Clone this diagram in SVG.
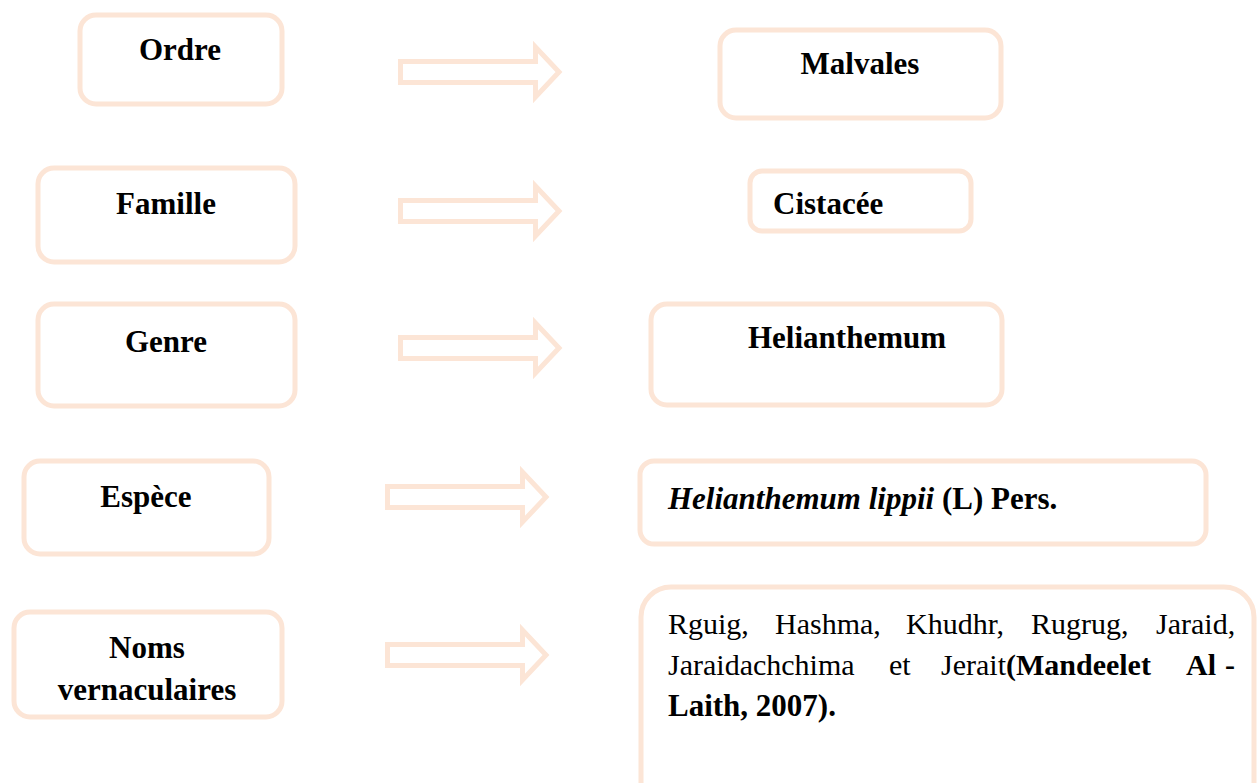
<svg xmlns="http://www.w3.org/2000/svg" width="1258" height="783" viewBox="0 0 1258 783">
<style>
.box{fill:#ffffff;stroke:#FCE5D6;stroke-width:5}
.arr{fill:#ffffff;stroke:#FCE5D6;stroke-width:5;stroke-linejoin:miter}
text{font-family:'Liberation Serif','DejaVu Serif',serif;fill:#000}
.lb{font-weight:bold;font-size:31px}
.rg{font-size:30px}
.b{font-weight:bold}
.it{font-style:italic}
</style>
<defs>
<path id="arrow" class="arr" d="M2.5,-10.5 H137.5 V-25 L161,0 L137.5,25 V10.5 H2.5 Z"/>
</defs>
<rect width="1258" height="783" fill="#ffffff"/>
<g id="connectors">
<use href="#arrow" x="398" y="72"/>
<use href="#arrow" x="398" y="211"/>
<use href="#arrow" x="398" y="348"/>
<use href="#arrow" x="385" y="497"/>
<use href="#arrow" x="385" y="655"/>
</g>
<g id="ordre"><rect class="box" x="80" y="15" width="202" height="89" rx="16"/><text class="lb" x="180" y="60" text-anchor="middle">Ordre</text></g>
<g id="malvales"><rect class="box" x="720" y="30" width="281" height="88" rx="16"/><text class="lb" x="860" y="74" text-anchor="middle">Malvales</text></g>
<g id="famille"><rect class="box" x="38" y="168" width="257" height="94" rx="16"/><text class="lb" x="166" y="214" text-anchor="middle">Famille</text></g>
<g id="cistacee"><rect class="box" x="750" y="171" width="221" height="60" rx="12"/><text class="lb" x="773" y="214">Cistacée</text></g>
<g id="genre"><rect class="box" x="38" y="304" width="257" height="102" rx="16"/><text class="lb" x="166" y="352" text-anchor="middle">Genre</text></g>
<g id="helianthemum"><rect class="box" x="651" y="304" width="351" height="101" rx="16"/><text class="lb" x="748" y="348">Helianthemum</text></g>
<g id="espece"><rect class="box" x="24" y="461" width="245" height="93" rx="16"/><text class="lb" x="146" y="507" text-anchor="middle">Espèce</text></g>
<g id="espece-nom"><rect class="box" x="640" y="461" width="566" height="83" rx="14"/><text class="lb" x="668" y="509"><tspan class="it">Helianthemum lippii</tspan> (L) Pers.</text></g>
<g id="noms"><rect class="box" x="14" y="612" width="268" height="105" rx="16"/><text class="lb" x="147" y="658" text-anchor="middle">Noms</text><text class="lb" x="147" y="700" text-anchor="middle">vernaculaires</text></g>
<g id="noms-vernaculaires"><rect class="box" x="641" y="587" width="613" height="240" rx="30"/>
<text class="rg" y="634"><tspan x="668">Rguig,</tspan><tspan x="775">Hashma,</tspan><tspan x="906">Khudhr,</tspan><tspan x="1031">Rugrug,</tspan><tspan x="1156">Jaraid,</tspan></text>
<text class="rg" y="675"><tspan x="668">Jaraidachchima</tspan><tspan x="889">et</tspan><tspan x="941">Jerait</tspan><tspan class="b">(Mandeelet</tspan><tspan class="b" x="1186">Al</tspan><tspan class="b" x="1225">-</tspan></text>
<text class="lb" x="668" y="716">Laith, 2007).</text>
</g>
</svg>
